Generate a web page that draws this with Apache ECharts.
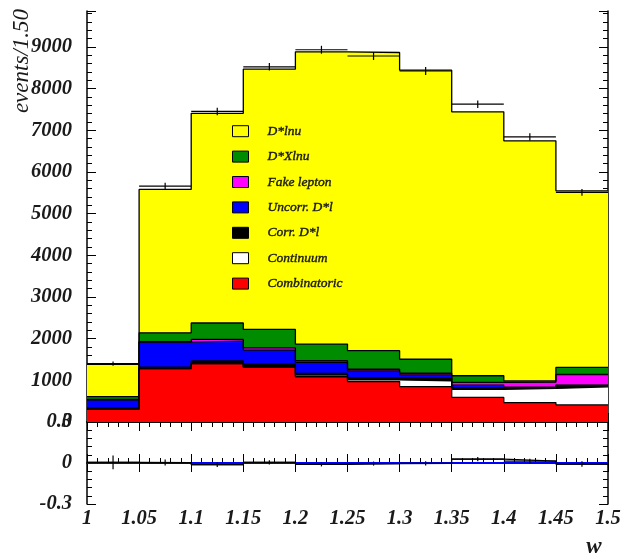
<!DOCTYPE html>
<html>
<head>
<meta charset="utf-8">
<script src="https://cdn.jsdelivr.net/npm/echarts@6/dist/echarts.min.js"></script>
<style>
  html, body { margin: 0; padding: 0; background: #fff; }
  #chart { width: 623px; height: 553px; }
</style>
</head>
<body>
<div id="chart"></div>
<script>
// bin edges in w
const binEdges = [1.00, 1.05, 1.10, 1.15, 1.20, 1.25, 1.30, 1.35, 1.40, 1.45, 1.50];

// stacked components, bottom to top (events / bin)
const combinatoric = [310, 1280, 1400, 1320, 1085, 970, 850, 590, 465, 410];
const continuum    = [0, 0, 0, 0, 40, 40, 140, 195, 340, 435];
const corrDl       = [20, 35, 65, 65, 40, 55, 60, 40, 25, 35];
const uncorrDl     = [200, 600, 475, 340, 265, 160, 80, 60, 5, 5];
const fakeLepton   = [10, 15, 40, 55, 40, 40, 40, 65, 120, 255];
const dXlnu        = [70, 210, 395, 440, 400, 445, 335, 160, 30, 170];
const dlnu         = [775, 3440, 5030, 6245, 7010, 7155, 6935, 6330, 5760, 4235];

// data points
const dataVals = [1400, 5660, 7450, 8520, 8930, 8780, 8420, 7625, 6840, 5510];
const dataErr  = [50, 80, 90, 90, 95, 95, 95, 90, 85, 80];

// lower panel residuals
const resid    = [0.004, 0.003, -0.012, 0.005, -0.01, -0.004, -0.003, 0.028, 0.014, -0.008];
const residErr = [0.05, 0.022, 0.018, 0.016, 0.015, 0.015, 0.015, 0.016, 0.018, 0.02];

// tick labels
const yTickVals = [0, 1000, 2000, 3000, 4000, 5000, 6000, 7000, 8000, 9000];
const rTickVals = [-0.3, 0, 0.3];
const xTickVals = [1, 1.05, 1.1, 1.15, 1.2, 1.25, 1.3, 1.35, 1.4, 1.45, 1.5];

const layers = [
  { name: 'D*lnu',        vals: dlnu,         color: '#ffff00' },
  { name: 'D*Xlnu',       vals: dXlnu,        color: '#008c00' },
  { name: 'Fake lepton',  vals: fakeLepton,   color: '#ff00ff' },
  { name: 'Uncorr. D*l',  vals: uncorrDl,     color: '#0000ff' },
  { name: 'Corr. D*l',    vals: corrDl,       color: '#000000' },
  { name: 'Continuum',    vals: continuum,    color: '#ffffff' },
  { name: 'Combinatoric', vals: combinatoric, color: '#ff0000' }
];

// cumulative tops, from the bottom layer up
const bottomUp = layers.slice().reverse();
const cum = [];
let running = new Array(10).fill(0);
bottomUp.forEach(l => {
  running = running.map((v, i) => v + l.vals[i]);
  cum.push(running.slice());
});
const cumTop = cum.slice().reverse(); // same order as layers

const stepData = tops => {
  const pts = tops.map((v, i) => [binEdges[i], v]);
  pts.push([binEdges[10], tops[9]]);
  return pts;
};

const FONT = 'Liberation Serif';

const axisLine = { show: true, lineStyle: { color: '#000', width: 1.5 } };
const tick = { show: true, inside: true, length: 9, lineStyle: { color: '#000', width: 1 } };
const minor = { show: true, splitNumber: 5, length: 5, lineStyle: { color: '#000', width: 1 } };
const noLabel = { show: false };

const xBase = { type: 'value', min: 1, max: 1.5, interval: 0.05, splitLine: { show: false }, axisLine, axisLabel: noLabel };

const makeCross = (lineWidth) => (params, api) => {
  const lo = api.value(0), hi = api.value(1), v = api.value(2), e = api.value(3);
  const a = api.coord([lo, v]);
  const b = api.coord([hi, v]);
  const c = (lo + hi) / 2;
  const t = api.coord([c, v + e]);
  const d = api.coord([c, v - e]);
  return {
    type: 'group',
    children: [
      { type: 'line', shape: { x1: a[0], y1: a[1], x2: b[0], y2: b[1] }, style: { stroke: '#000', lineWidth } },
      { type: 'line', shape: { x1: t[0], y1: t[1], x2: d[0], y2: d[1] }, style: { stroke: '#000', lineWidth } }
    ]
  };
};

const chart = echarts.init(document.getElementById('chart'));

const series = layers.map((l, k) => ({
  name: l.name,
  type: 'line',
  xAxisIndex: 0,
  yAxisIndex: 0,
  step: 'end',
  symbol: 'none',
  data: stepData(cumTop[k]),
  lineStyle: { color: '#000', width: 1.3 },
  areaStyle: { color: l.color, opacity: 1 },
  z: 2
}));

series.push({
  type: 'custom',
  xAxisIndex: 0,
  yAxisIndex: 0,
  renderItem: makeCross(1.2),
  encode: { x: [0, 1], y: 2 },
  data: dataVals.map((v, i) => [binEdges[i], binEdges[i + 1], v, dataErr[i]]),
  z: 5
});

series.push({
  type: 'line',
  xAxisIndex: 2,
  yAxisIndex: 2,
  symbol: 'none',
  data: [[binEdges[0], 0], [binEdges[10], 0]],
  lineStyle: { color: '#0000ff', width: 2 },
  z: 3
});

series.push({
  type: 'line',
  xAxisIndex: 2,
  yAxisIndex: 2,
  step: 'end',
  symbol: 'none',
  data: stepData(resid),
  lineStyle: { color: '#000', width: 1.2 },
  z: 4
});

series.push({
  type: 'custom',
  xAxisIndex: 2,
  yAxisIndex: 2,
  renderItem: makeCross(1.2),
  encode: { x: [0, 1], y: 2 },
  data: resid.map((v, i) => [binEdges[i], binEdges[i + 1], v, residErr[i]]),
  z: 5
});

chart.setOption({
  animation: false,
  textStyle: { fontFamily: FONT },
  grid: [
    { left: 87, right: 15, top: 11, height: 411 },
    { left: 87, right: 15, top: 422, height: 82 }
  ],
  xAxis: [
    Object.assign({}, xBase, { gridIndex: 0, position: 'bottom', axisTick: tick, minorTick: minor }),
    Object.assign({}, xBase, { gridIndex: 0, position: 'top', axisTick: tick, minorTick: minor }),
    Object.assign({}, xBase, { gridIndex: 1, position: 'bottom', axisTick: tick, minorTick: minor }),
    Object.assign({}, xBase, { gridIndex: 1, position: 'top', axisTick: tick, minorTick: { show: false } })
  ],
  yAxis: [
    { type: 'value', gridIndex: 0, position: 'left', min: 0, max: 9860, interval: 1000,
      axisLabel: noLabel, axisLine, axisTick: tick, minorTick: minor, splitLine: { show: false } },
    { type: 'value', gridIndex: 0, position: 'right', min: 0, max: 9860, interval: 1000,
      axisLabel: noLabel, axisLine, axisTick: tick, minorTick: minor, splitLine: { show: false } },
    { type: 'value', gridIndex: 1, position: 'left', min: -0.3, max: 0.3, interval: 0.3,
      axisLabel: noLabel, axisLine, axisTick: tick, minorTick: minor, splitLine: { show: false } },
    { type: 'value', gridIndex: 1, position: 'right', min: -0.3, max: 0.3, interval: 0.3,
      axisLabel: noLabel, axisLine, axisTick: tick, minorTick: minor, splitLine: { show: false } }
  ],
  legend: {
    orient: 'vertical',
    left: 227,
    top: 119,
    itemWidth: 16,
    itemHeight: 11,
    itemGap: 11,
    selectedMode: false,
    data: layers.map(l => ({
      name: l.name,
      icon: 'rect',
      itemStyle: { color: l.color, borderColor: '#000', borderWidth: 1 }
    })),
    textStyle: {
      fontFamily: FONT,
      fontStyle: 'italic',
      fontSize: 13.5,
      color: '#1a1a1a',
      textBorderColor: '#1a1a1a',
      textBorderWidth: 0.4,
      padding: [0, 0, 0, 14]
    }
  },
  series
});

// tick labels placed through the axes' own scales
const tickText = (x, y, text, align, vAlign) => ({
  type: 'text',
  x, y,
  style: {
    text,
    fontFamily: FONT,
    fontStyle: 'italic',
    fontWeight: 'bold',
    fontSize: 20.5,
    fill: '#1a1a1a',
    align,
    verticalAlign: vAlign
  }
});

const labels = [];
yTickVals.forEach(v => {
  const py = chart.convertToPixel({ yAxisIndex: 0 }, v);
  labels.push(tickText(72, py, String(v), 'right', 'middle'));
});
rTickVals.forEach(v => {
  const py = chart.convertToPixel({ yAxisIndex: 2 }, v);
  labels.push(tickText(72, py, String(v), 'right', 'middle'));
});
xTickVals.forEach(v => {
  const px = chart.convertToPixel({ xAxisIndex: 2 }, v);
  const py = chart.convertToPixel({ yAxisIndex: 2 }, -0.3);
  labels.push(tickText(px, py + 5, String(v), 'center', 'top'));
});

labels.push({
  type: 'text',
  x: 22,
  y: 9,
  rotation: Math.PI / 2,
  style: {
    text: 'events/1.50',
    fontFamily: FONT,
    fontStyle: 'italic',
    fontSize: 23,
    fill: '#1a1a1a',
    align: 'right',
    verticalAlign: 'middle'
  }
});
labels.push({
  type: 'text',
  x: 594,
  y: 547,
  style: {
    text: 'w',
    fontFamily: FONT,
    fontStyle: 'italic',
    fontWeight: 'bold',
    fontSize: 23,
    fill: '#1a1a1a',
    align: 'center',
    verticalAlign: 'middle'
  }
});

chart.setOption({ graphic: labels });
</script>
</body>
</html>
